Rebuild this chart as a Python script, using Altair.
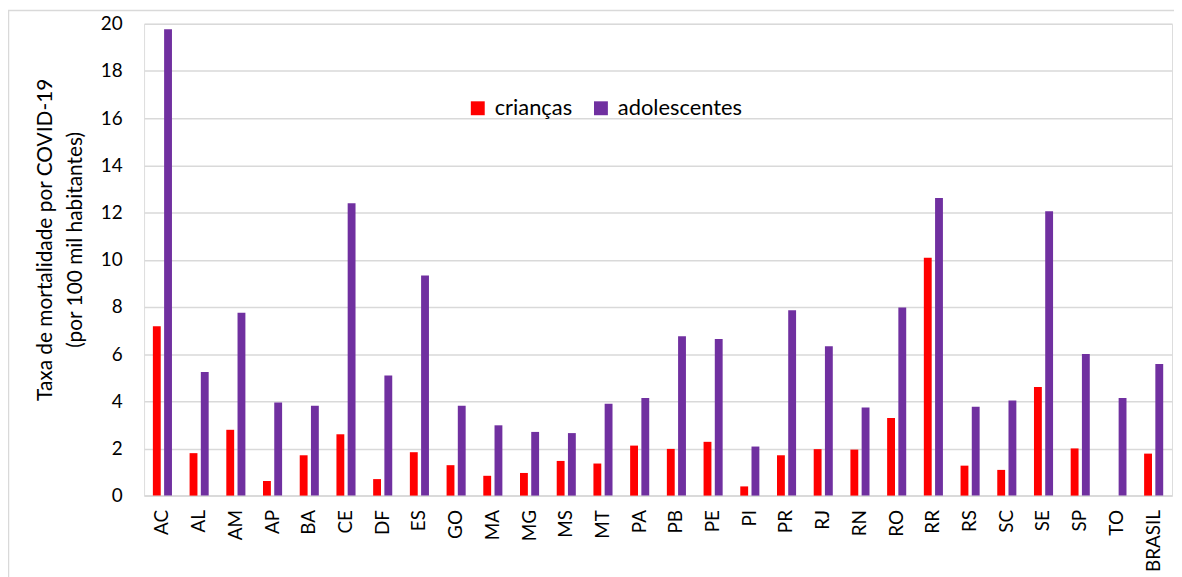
import altair as alt
import pandas as pd

estados = ["AC", "AL", "AM", "AP", "BA", "CE", "DF", "ES", "GO", "MA", "MG", "MS", "MT",
           "PA", "PB", "PE", "PI", "PR", "RJ", "RN", "RO", "RR", "RS", "SC", "SE", "SP",
           "TO", "BRASIL"]
criancas = [7.18, 1.80, 2.79, 0.62, 1.71, 2.60, 0.70, 1.84, 1.29, 0.84, 0.96, 1.47, 1.36,
            2.12, 1.98, 2.28, 0.39, 1.71, 1.97, 1.95, 3.29, 10.08, 1.27, 1.09, 4.60, 2.00,
            0.0, 1.78]
adolescentes = [19.77, 5.24, 7.75, 3.95, 3.81, 12.39, 5.09, 9.33, 3.81, 2.98, 2.70, 2.65, 3.89,
                4.14, 6.76, 6.64, 2.08, 7.86, 6.33, 3.74, 7.97, 12.62, 3.77, 4.03, 12.06, 6.00,
                4.14, 5.58]
series = ["crianças", "adolescentes"]
cores = ["#FF0000", "#7030A0"]

rows = []
for i, uf in enumerate(estados):
    rows.append({"uf": uf, "serie": series[0], "valor": criancas[i]})
    rows.append({"uf": uf, "serie": series[1], "valor": adolescentes[i]})
df = pd.DataFrame(rows)

FONT = "Lato"
W, H = 1035, 475

bars = alt.Chart(df).mark_bar().encode(
    x=alt.X("uf:N", sort=estados,
            scale=alt.Scale(paddingInner=0.48, paddingOuter=0.24),
            axis=alt.Axis(title=None, labelAngle=-90, labelAlign="right", labelBaseline="middle",
                          labelPadding=14, ticks=False, domain=True, domainColor="#d9d9d9",
                          domainWidth=1.5, labelFontSize=19, labelColor="#000000",
                          labelFont=FONT, grid=False)),
    xOffset=alt.XOffset("serie:N", sort=series,
                        scale=alt.Scale(paddingInner=0.3, paddingOuter=0)),
    y=alt.Y("valor:Q", scale=alt.Scale(domain=[0, 20], nice=False),
            axis=alt.Axis(values=list(range(0, 21, 2)), title=["Taxa de mortalidade por COVID-19",
                                                              "(por 100 mil habitantes)"],
                          titleFont=FONT, titleFontSize=21, titleFontWeight="normal",
                          titleColor="#000000", titlePadding=15, titleY=217,
                          titleLineHeight=30,
                          labelFont=FONT, labelFontSize=19, labelColor="#000000",
                          labelPadding=22, ticks=False, domain=False,
                          grid=True, gridColor="#d9d9d9", gridWidth=1.5)),
    color=alt.Color("serie:N", sort=series,
                    scale=alt.Scale(domain=series, range=cores),
                    legend=alt.Legend(title=None, orient="none", legendX=325, legendY=74,
                                      direction="horizontal", symbolType="square",
                                      symbolSize=196, symbolStrokeWidth=0,
                                      labelFont=FONT, labelFontSize=22, labelColor="#000000",
                                      columnPadding=18, labelOffset=6)),
)

border = alt.Chart(pd.DataFrame({"a": [0]})).mark_rect(
    fill=None, stroke="#d9d9d9", strokeWidth=1.5
).encode(x=alt.value(-136.5), x2=alt.value(1060), y=alt.value(-13.5), y2=alt.value(620))

chart = alt.layer(border, bars).properties(
    width=W, height=H,
    autosize=alt.AutoSizeParams(type="none"),
    padding={"left": 137, "top": 14, "right": 2, "bottom": 80},
).configure_view(stroke=None).configure(background="white")

chart.save("out.html", embed_options={"renderer": "svg", "actions": False})
